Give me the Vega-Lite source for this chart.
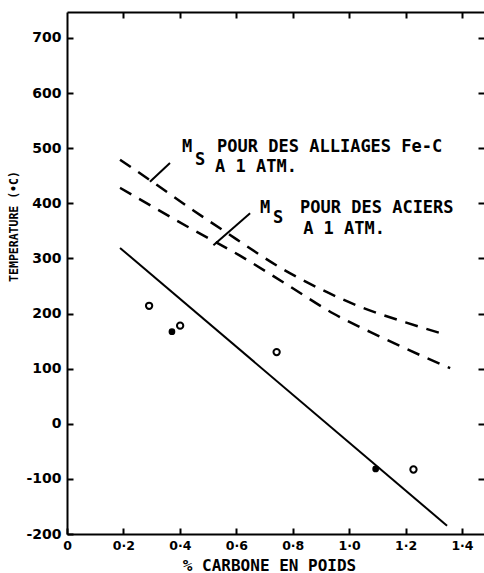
{
  "$schema": "https://vega.github.io/schema/vega-lite/v6.json",
  "width": 417,
  "height": 522,
  "autosize": "none",
  "padding": {"left": 67, "top": 12, "right": 0, "bottom": 39},
  "background": "white",
  "config": {
    "view": {"stroke": null},
    "axis": {
      "grid": false,
      "domainColor": "black",
      "domainWidth": 2,
      "tickColor": "black",
      "tickWidth": 2,
      "tickSize": -6,
      "labelColor": "black",
      "titleColor": "black",
      "labelFont": "DejaVu Sans",
      "labelFontWeight": "bold",
      "labelFontSize": 14,
      "labelFlush": false,
      "labelOverlap": false
    }
  },
  "datasets": {
    "fitline": [
      {"x": 0.188, "y": 319},
      {"x": 1.347, "y": -185}
    ],
    "alloys": [
      {"x": 0.188, "y": 479},
      {"x": 0.294, "y": 442},
      {"x": 0.448, "y": 387},
      {"x": 0.6, "y": 335},
      {"x": 0.75, "y": 285},
      {"x": 0.9, "y": 244},
      {"x": 1.05, "y": 210},
      {"x": 1.2, "y": 184},
      {"x": 1.346, "y": 161}
    ],
    "steels": [
      {"x": 0.188, "y": 428},
      {"x": 0.436, "y": 355},
      {"x": 0.613, "y": 305},
      {"x": 0.784, "y": 251},
      {"x": 0.944, "y": 200},
      {"x": 1.11, "y": 158},
      {"x": 1.263, "y": 122},
      {"x": 1.358, "y": 101}
    ],
    "leaders": [
      {"leader": "a", "x": 0.294, "y": 439},
      {"leader": "a", "x": 0.365, "y": 473},
      {"leader": "b", "x": 0.519, "y": 324},
      {"leader": "b", "x": 0.649, "y": 382}
    ],
    "points": [
      {"x": 0.291, "y": 214, "kind": "open"},
      {"x": 0.401, "y": 178, "kind": "open"},
      {"x": 0.743, "y": 130, "kind": "open"},
      {"x": 1.228, "y": -83, "kind": "open"},
      {"x": 0.372, "y": 167, "kind": "filled"},
      {"x": 1.094, "y": -82, "kind": "filled"}
    ],
    "labels": [
      {"x": 0.408, "y": 502, "t": "M"},
      {"x": 0.454, "y": 479, "t": "S"},
      {"x": 0.532, "y": 502, "t": "POUR DES ALLIAGES Fe-C"},
      {"x": 0.525, "y": 466, "t": "A 1 ATM."},
      {"x": 0.684, "y": 391, "t": "M"},
      {"x": 0.73, "y": 373, "t": "S"},
      {"x": 0.826, "y": 391, "t": "POUR DES ACIERS"},
      {"x": 0.837, "y": 354, "t": "A 1 ATM."}
    ]
  },
  "layer": [
    {
      "encoding": {
        "x": {
          "field": "x", "type": "quantitative",
          "scale": {"domain": [0, 1.478], "nice": false, "zero": false},
          "axis": {
            "orient": "bottom",
            "values": [0, 0.2, 0.4, 0.6, 0.8, 1.0, 1.2, 1.4],
            "labelExpr": "datum.value == 0 ? '0' : replace(format(datum.value, '.1f'), '.', '·')",
            "labelFontSize": 12.5,
            "labelPadding": 11,
            "title": "% CARBONE EN POIDS",
            "titleFont": "DejaVu Sans Mono",
            "titleFontWeight": "bold",
            "titleFontSize": 16,
            "titleX": 202,
            "titleY": 36,
            "titleAlign": "center",
            "titleBaseline": "alphabetic"
          }
        },
        "y": {
          "field": "y", "type": "quantitative",
          "scale": {"domain": [-200, 747], "nice": false, "zero": false},
          "axis": {
            "orient": "left",
            "values": [-200, -100, 0, 100, 200, 300, 400, 500, 600, 700],
            "labelExpr": "datum.value < 0 ? '-' + abs(datum.value) : '' + datum.value",
            "labelPadding": 12,
            "title": "TEMPERATURE (•C)",
            "titleFont": "DejaVu Sans Mono",
            "titleFontWeight": "bold",
            "titleFontSize": 11.5,
            "titleX": -53,
            "titleY": 214,
            "titleAngle": -90,
            "titleAlign": "center",
            "titleBaseline": "middle"
          }
        }
      },
      "layer": [
        {
          "data": {"name": "fitline"},
          "mark": {"type": "line", "color": "black", "strokeWidth": 2}
        },
        {
          "data": {"name": "alloys"},
          "mark": {"type": "line", "color": "black", "strokeWidth": 2.5, "strokeDash": [13, 9], "interpolate": "monotone"}
        },
        {
          "data": {"name": "steels"},
          "mark": {"type": "line", "color": "black", "strokeWidth": 2.5, "strokeDash": [13, 9], "interpolate": "monotone"}
        },
        {
          "data": {"name": "leaders"},
          "mark": {"type": "line", "color": "black", "strokeWidth": 2},
          "encoding": {"detail": {"field": "leader"}}
        },
        {
          "data": {"name": "points"},
          "transform": [{"filter": "datum.kind == 'open'"}],
          "mark": {"type": "point", "shape": "circle", "filled": false, "color": "black", "strokeWidth": 2, "size": 40, "opacity": 1}
        },
        {
          "data": {"name": "points"},
          "transform": [{"filter": "datum.kind == 'filled'"}],
          "mark": {"type": "point", "shape": "circle", "filled": true, "color": "black", "size": 45, "opacity": 1}
        },
        {
          "data": {"name": "labels"},
          "mark": {"type": "text", "align": "left", "baseline": "middle", "font": "DejaVu Sans Mono", "fontWeight": "bold", "fontSize": 17, "color": "black"},
          "encoding": {"text": {"field": "t"}}
        }
      ]
    },
    {
      "data": {"name": "points"},
      "mark": {"type": "point", "opacity": 0},
      "encoding": {
        "x": {
          "field": "x", "type": "quantitative",
          "axis": {"orient": "top", "values": [0.2, 0.4, 0.6, 0.8, 1.0, 1.2, 1.4], "labels": false, "title": null}
        },
        "y": {
          "field": "y", "type": "quantitative",
          "axis": {"orient": "right", "values": [-100, 0, 100, 200, 300, 400, 500, 600, 700], "labels": false, "title": null, "domain": false}
        }
      }
    }
  ],
  "resolve": {"axis": {"x": "independent", "y": "independent"}}
}
